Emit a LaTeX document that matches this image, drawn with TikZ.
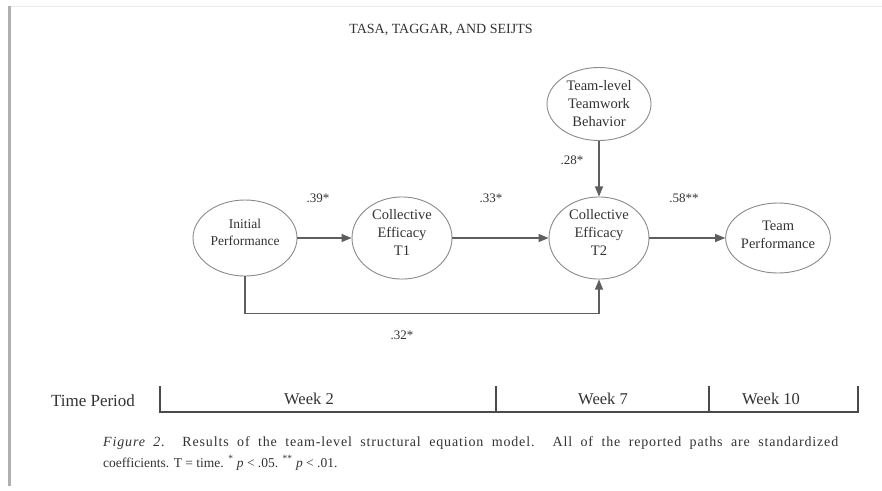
\documentclass[tikz,border=0pt]{standalone}
\usepackage{fontspec}
\setmainfont{Liberation Serif}
\usetikzlibrary{shapes.geometric,arrows.meta,calc}
\definecolor{ink}{HTML}{333333}
\definecolor{ellgray}{HTML}{8A8A8A}
\definecolor{linegray}{HTML}{5E5E5E}
\definecolor{rulegray}{HTML}{4A4A4A}
\definecolor{pagebar}{HTML}{AFAFAF}
\begin{document}
\begin{tikzpicture}[x=1pt,y=-1pt,
  construct/.style={ellipse, draw=ellgray, line width=0.9pt, inner sep=0pt,
    align=center, text=ink, font=\fontsize{14.5}{18}\selectfont},
  % raises the text block inside its ellipse by half the given depth
  lift/.style={execute at end node={\rule[-#1]{0pt}{0pt}}},
  pathline/.style={draw=linegray, line width=1.1pt,
    -{Triangle[length=10pt,width=8pt]}},
  coef/.style={text=ink, font=\fontsize{13}{15}\selectfont},
  bracket/.style={draw=rulegray, line width=1.4pt},
  weeklabel/.style={text=ink, font=\fontsize{16.5}{19}\selectfont},
  captext/.style={text=ink, anchor=base west, inner sep=0pt, font=\fontsize{13.5}{16}\selectfont}]
\useasboundingbox (0,0) rectangle (882,490);
\fill[white] (0,0) rectangle (882,490);

% page edge
\fill[pagebar] (8,6) rectangle (10.5,486);
\draw[black!8, line width=0.6pt] (10.5,6) -- (882,6);

% running head
\node[text=ink, font=\fontsize{14}{16}\selectfont] (head) at (441,30) {TASA, TAGGAR, AND SEIJTS};

% constructs
\node[construct, lift=12pt, minimum width=104pt, minimum height=76pt,
      font=\fontsize{13.5}{17}\selectfont] (ip) at (245,238) {Initial\\Performance};
\node[construct, lift=12pt, minimum width=100pt, minimum height=76pt] (t1) at (402,238) {Collective\\Efficacy\\T1};
\node[construct, lift=12pt, minimum width=100pt, minimum height=76pt] (t2) at (599,238) {Collective\\Efficacy\\T2};
\node[construct, lift=6pt, minimum width=104pt, minimum height=70pt] (tp) at (778,238) {Team\\Performance};
\node[construct, minimum width=104pt, minimum height=73pt] (tw) at (599,104) {Team-level\\Teamwork\\Behavior};

% structural paths
\draw[pathline] (ip) -- (t1);
\draw[pathline] (t1) -- (t2);
\draw[pathline] (t2) -- (tp);
\draw[pathline] (tw.south) -- (t2.north);
\draw[pathline] (ip.south) -- ++(0,37) coordinate (corner) -| (t2.south);

% coefficients
\node[coef] (c39) at (318,198) {.39*};
\node[coef] (c33) at (491,198) {.33*};
\node[coef] (c28) at (572,160) {.28*};
\node[coef] (c58) at (684,198) {.58**};
\node[coef] (c32) at (402,335) {.32*};

% time axis
\node[text=ink, font=\fontsize{17}{20}\selectfont] (tperiod) at (93,401) {Time Period};
\coordinate (a0) at (160,386);
\coordinate (a1) at (496,386);
\coordinate (a2) at (709,386);
\coordinate (a3) at (858,386);
\draw[bracket] (a0) -- ++(0,26) -- ($(a3)+(0,26)$) -- (a3);
\draw[bracket] (a1) -- ++(0,26);
\draw[bracket] (a2) -- ++(0,26);
\node[weeklabel] (w2) at (309,399) {Week 2};
\node[weeklabel] (w7) at (603,399) {Week 7};
\node[weeklabel] (w10) at (771,399) {Week 10};

% caption, first line spread to the full measure
\node[captext] (cap1) at (103,446)
  {\makebox[735pt][s]{\fontsize{14}{16}\selectfont\addfontfeatures{LetterSpace=6}\textit{Figure 2.}\ \ Results of the team-level structural equation model. All of the reported paths are standardized}};
\node[captext] (cap2) at (103,467)
  {coefficients. T = time. \textsuperscript{*} \textit{p} < .05. \textsuperscript{**} \textit{p} < .01.};
\end{tikzpicture}
\end{document}
